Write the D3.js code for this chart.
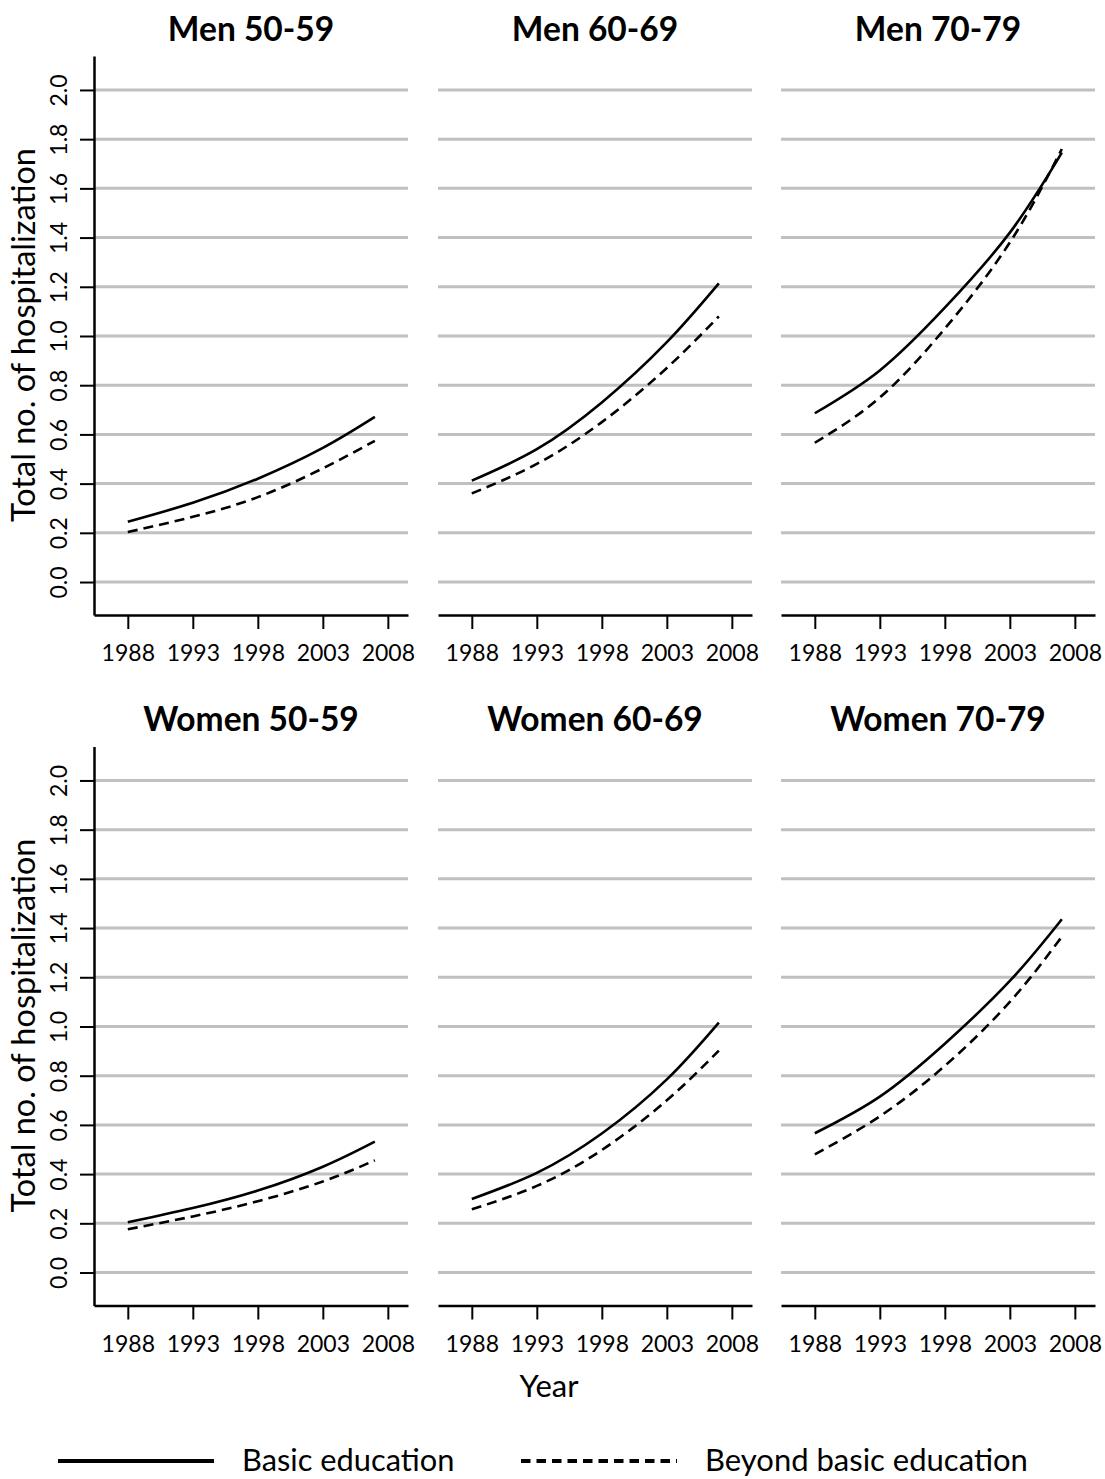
<!DOCTYPE html>
<html>
<head>
<meta charset="utf-8">
<script src="https://cdn.jsdelivr.net/npm/d3@7"></script>
<style>
  body { margin: 0; background: #fff; }
  text { font-family: Lato, "Open Sans", sans-serif; fill: #000; }
</style>
</head>
<body>
<script>
// values at these years
const years = [1988, 1993, 1998, 2003, 2007];
const panelTitles = ["Men 50-59", "Men 60-69", "Men 70-79", "Women 50-59", "Women 60-69", "Women 70-79"];
const basic = [
  [0.245, 0.322, 0.420, 0.545, 0.671],
  [0.412, 0.540, 0.730, 0.975, 1.214],
  [0.686, 0.860, 1.115, 1.420, 1.745],
  [0.204, 0.262, 0.333, 0.430, 0.532],
  [0.299, 0.405, 0.565, 0.785, 1.016],
  [0.566, 0.715, 0.930, 1.185, 1.436]
];
const beyond = [
  [0.203, 0.265, 0.345, 0.462, 0.574],
  [0.360, 0.480, 0.650, 0.870, 1.080],
  [0.566, 0.750, 1.030, 1.380, 1.760],
  [0.176, 0.228, 0.290, 0.370, 0.456],
  [0.257, 0.352, 0.498, 0.700, 0.902],
  [0.480, 0.635, 0.840, 1.100, 1.365]
];
const xTicks = [1988, 1993, 1998, 2003, 2008];
const yTicks = [0, 0.2, 0.4, 0.6, 0.8, 1.0, 1.2, 1.4, 1.6, 1.8, 2.0];
const legendLabels = ["Basic education", "Beyond basic education"];

const W = 1105, H = 1479;
const svg = d3.select("body").append("svg")
    .attr("width", W)
    .attr("height", H);

const colX = [94, 438, 781];
const rowY = [56, 746.5];
const pw = 314, ph = 559;

const x = d3.scaleLinear().domain([1985.4, 2009.55]).range([0, pw]);
const y = d3.scaleLinear().domain([-0.134, 2.138]).range([ph, 0]);

const line = d3.line()
    .x(d => x(d[0]))
    .y(d => y(d[1]))
    .curve(d3.curveNatural);

panelTitles.forEach((title, i) => {
  const col = i % 3, row = Math.floor(i / 3);
  const g = svg.append("g").attr("transform", `translate(${colX[col]},${rowY[row]})`);

  // grid
  g.selectAll(".grid").data(yTicks).enter().append("line")
      .attr("x1", 0).attr("x2", pw)
      .attr("y1", d => y(d)).attr("y2", d => y(d))
      .attr("stroke", "#c0c0c0")
      .attr("stroke-width", 3);

  // x axis
  const xa = g.append("g").attr("transform", `translate(0,${ph})`)
      .call(d3.axisBottom(x).tickValues(xTicks).tickFormat(d3.format("d")).tickSize(14).tickSizeOuter(0).tickPadding(16));
  xa.select(".domain").attr("stroke", "#000").attr("stroke-width", 2.5);
  xa.selectAll(".tick line").attr("stroke", "#000").attr("stroke-width", 2);
  xa.selectAll(".tick text").attr("font-size", 23).attr("font-family", "Lato").attr("fill", "#000");

  // y axis only on first column
  if (col === 0) {
    const ya = g.append("g")
        .call(d3.axisLeft(y).tickValues(yTicks).tickFormat(d3.format(".1f")).tickSize(14).tickSizeOuter(0));
    ya.select(".domain").attr("stroke", "#000").attr("stroke-width", 2.5);
    ya.selectAll(".tick line").attr("stroke", "#000").attr("stroke-width", 2);
    ya.selectAll(".tick text")
        .attr("font-size", 23).attr("font-family", "Lato").attr("fill", "#000")
        .attr("text-anchor", "middle")
        .attr("x", 0).attr("dy", 0)
        .attr("transform", "translate(-27,0) rotate(-90)");

    svg.append("text")
        .attr("transform", `translate(${35},${rowY[row] + 279}) rotate(-90)`)
        .attr("text-anchor", "middle")
        .attr("font-size", 32.5)
        .text("Total no. of hospitalization");
  }

  g.append("path")
      .datum(years.map((yr, k) => [yr, basic[i][k]]))
      .attr("fill", "none")
      .attr("stroke", "#000")
      .attr("stroke-width", 2.6)
      .attr("d", line);

  g.append("path")
      .datum(years.map((yr, k) => [yr, beyond[i][k]]))
      .attr("fill", "none")
      .attr("stroke", "#000")
      .attr("stroke-width", 2.6)
      .attr("stroke-dasharray", "10,6")
      .attr("d", line);

  g.append("text")
      .attr("x", pw / 2)
      .attr("y", -15.5)
      .attr("text-anchor", "middle")
      .attr("font-size", 33.5)
      .attr("font-weight", "bold")
      .text(title);
});

svg.append("text")
    .attr("x", 549)
    .attr("y", 1397)
    .attr("text-anchor", "middle")
    .attr("font-size", 31)
    .text("Year");

// legend
svg.append("line")
    .attr("x1", 58).attr("x2", 214)
    .attr("y1", 1461).attr("y2", 1461)
    .attr("stroke", "#000").attr("stroke-width", 4);
svg.append("text")
    .attr("x", 242).attr("y", 1471)
    .attr("font-size", 30.8)
    .text(legendLabels[0]);
svg.append("line")
    .attr("x1", 521).attr("x2", 677)
    .attr("y1", 1461).attr("y2", 1461)
    .attr("stroke", "#000").attr("stroke-width", 4)
    .attr("stroke-dasharray", "9.5,6");
svg.append("text")
    .attr("x", 705).attr("y", 1471)
    .attr("font-size", 31)
    .text(legendLabels[1]);
</script>
</body>
</html>
